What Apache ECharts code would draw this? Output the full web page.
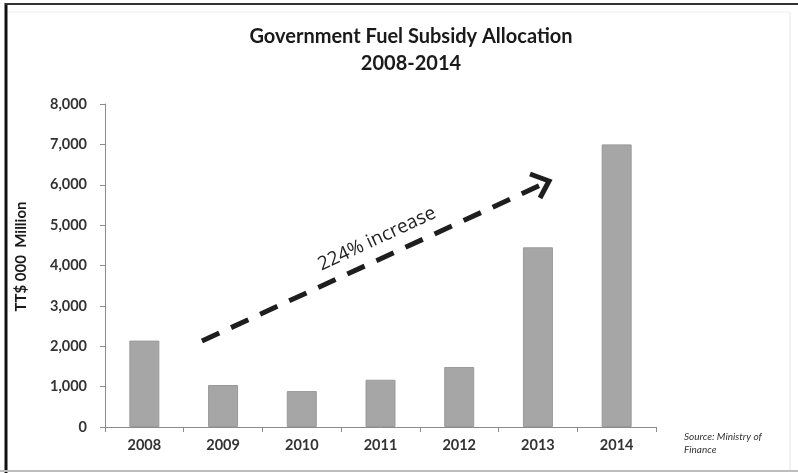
<!DOCTYPE html>
<html>
<head>
<meta charset="utf-8">
<script src="https://cdn.jsdelivr.net/npm/echarts@6/dist/echarts.min.js"></script>
<style>
html,body{margin:0;padding:0;background:#fff;}
#chart{width:798px;height:473px;}
</style>
</head>
<body>
<div id="chart"></div>
<script>
var years = ['2008','2009','2010','2011','2012','2013','2014'];
var subsidy = [2140, 1040, 890, 1170, 1485, 4450, 7000];
var yTicks = [0, 1000, 2000, 3000, 4000, 5000, 6000, 7000, 8000];
var titleLines = ['Government Fuel Subsidy Allocation', '2008-2014'];
var yAxisName = 'TT$ 000  Million';
var annotationText = '224% increase';
var sourceText = 'Source: Ministry of\nFinance';

var chart = echarts.init(document.getElementById('chart'), null, {renderer: 'canvas'});
var FONT = 'Lato, "Open Sans", sans-serif';

var option = {
  backgroundColor: '#ffffff',
  animation: false,
  title: {
    text: titleLines.join('\n'),
    left: 406,
    textAlign: 'center',
    top: 18,
    textStyle: {fontFamily: FONT, fontSize: 20, fontWeight: 'bold', color: '#1a1a1a', lineHeight: 27}
  },
  grid: {left: 105, right: 142, top: 104, bottom: 46},
  xAxis: {
    type: 'category',
    data: years,
    axisLine: {lineStyle: {color: '#8c8c8c', width: 1}},
    axisTick: {show: true, length: 5, lineStyle: {color: '#8c8c8c'}},
    axisLabel: {fontFamily: FONT, fontSize: 14.5, fontWeight: 'bold', color: '#333', margin: 11}
  },
  yAxis: {
    type: 'value',
    min: yTicks[0],
    max: yTicks[yTicks.length - 1],
    interval: 1000,
    name: yAxisName,
    nameLocation: 'middle',
    nameGap: 76,
    nameRotate: 90,
    nameTextStyle: {fontFamily: FONT, fontSize: 15, fontWeight: 'bold', color: '#1a1a1a', padding: [0, 0, 0, 18]},
    axisLine: {show: true, lineStyle: {color: '#8c8c8c', width: 1}},
    axisTick: {show: true, length: 5, lineStyle: {color: '#8c8c8c'}},
    splitLine: {show: false},
    axisLabel: {
      fontFamily: FONT, fontSize: 14.5, fontWeight: 'bold', color: '#333', margin: 18,
      formatter: function (v) { return v.toLocaleString('en-US'); }
    }
  },
  series: [{
    type: 'bar',
    data: subsidy,
    barWidth: 30,
    itemStyle: {color: '#a6a6a6', borderColor: '#9a9a9a', borderWidth: 1}
  }],
  graphic: [
    {type: 'line', shape: {x1: 6, y1: 3, x2: 6, y2: 473}, style: {stroke: '#111', lineWidth: 3}, z: 100},
    {type: 'line', shape: {x1: 5, y1: 4, x2: 798, y2: 4}, style: {stroke: '#333', lineWidth: 2}, z: 100},
    {type: 'line', shape: {x1: 790, y1: 12, x2: 790, y2: 470}, style: {stroke: '#e6e6e6', lineWidth: 1}, z: 100},
    {type: 'line', shape: {x1: 8, y1: 12, x2: 790, y2: 12}, style: {stroke: '#eeeeee', lineWidth: 1}, z: 100},
    {type: 'line', shape: {x1: 0, y1: 471, x2: 798, y2: 471}, style: {stroke: '#bdbdbd', lineWidth: 2}, z: 100},
    {type: 'line', shape: {x1: 202, y1: 341, x2: 543, y2: 184},
      style: {stroke: '#1e1e1e', lineWidth: 5, lineDash: [19, 13]}, z: 50},
    {type: 'polyline', shape: {points: [[530, 174], [549, 181], [540, 198]]},
      style: {stroke: '#1e1e1e', lineWidth: 5, fill: null, lineJoin: 'miter'}, z: 50},
    {type: 'text', x: 377, y: 239, rotation: 25 * Math.PI / 180,
      style: {text: annotationText, fontFamily: '"Open Sans", sans-serif', fontSize: 19, fill: '#222',
        textAlign: 'center', textVerticalAlign: 'middle'}, z: 50},
    {type: 'text', x: 684, y: 430,
      style: {text: sourceText, fontFamily: FONT, fontSize: 10, fontStyle: 'italic', fill: '#333', lineHeight: 13,
        textAlign: 'left'}, z: 50}
  ]
};
chart.setOption(option);
</script>
</body>
</html>
